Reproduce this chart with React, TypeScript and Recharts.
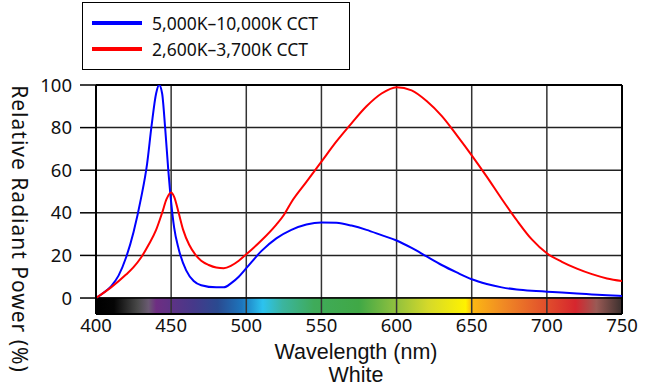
import {
  ComposedChart,
  Line,
  XAxis,
  YAxis,
  CartesianGrid,
  Legend,
  ReferenceArea,
  ReferenceLine,
  Label,
} from 'recharts';

// wavelength ticks (nm) and relative power ticks (%)
const wavelengthTicks = [400, 450, 500, 550, 600, 650, 700, 750];
const powerTicks = [0, 20, 40, 60, 80, 100];

// 5,000K–10,000K CCT (blue)
const coolWavelength = [
  400, 405, 410, 415, 420, 425, 430, 434, 437, 440, 442, 444, 446, 448, 450, 452, 455, 460, 465,
  470, 480, 485, 490, 495, 500, 510, 520, 530, 540, 550, 560, 570, 580, 590, 600, 610, 620, 630,
  640, 650, 660, 670, 680, 690, 700, 710, 720, 730, 740, 750,
];
const coolPower = [
  0, 2.5, 5.5, 10.5, 19, 31, 47, 63, 81, 96, 100, 96, 80, 61, 45, 33, 23, 13, 8,
  6, 5, 5, 7, 10, 14, 22, 28, 32, 34.5, 35.5, 35.3, 34, 32, 29.5, 27, 23.5, 19.5, 15.5,
  12, 8.8, 6.6, 5, 4, 3.4, 3, 2.6, 2.1, 1.7, 1.3, 1,
];

// 2,600K–3,700K CCT (red)
const warmWavelength = [
  400, 410, 420, 425, 430, 435, 440, 444, 447, 450, 452, 455, 458, 462, 466, 470, 475, 480, 485,
  490, 495, 500, 510, 520, 525, 530, 540, 550, 560, 570, 580, 590, 600, 610, 620, 630, 640, 650,
  660, 670, 680, 690, 700, 710, 720, 730, 740, 750,
];
const warmPower = [
  0, 5, 11, 14.5, 19, 25, 32, 40, 46.5, 49.5, 47.5, 40, 32, 25, 20.5, 17.5, 15.5, 14.3, 14,
  15.2, 17.5, 20.5, 27, 34.5, 39, 45, 54.5, 64, 73.5, 82, 90, 96, 99, 97.5, 92.5, 85.5, 76.5, 67,
  57, 46.5, 36.5, 27.5, 21, 17, 13.8, 11.2, 9.2, 8,
];

// visible spectrum strip under the plot
const spectrumNm = [400, 412, 428, 435, 440, 465, 481, 497, 511, 524, 545, 575, 598, 621, 646, 650, 671, 694, 719, 733, 750];
const spectrumColor = [
  '#000000', '#050505', '#4a4a4a', '#6a5a72', '#6e2e82', '#46398a', '#2a4a90', '#1d75bc', '#2cc3ef',
  '#3bb5a0', '#3fab5a', '#40a846', '#8cbf3f', '#d5d92a', '#fff200', '#fcb913', '#f08a24', '#e45a2b',
  '#d6262e', '#9a5a55', '#3a302e',
];

const coolData = coolWavelength.map((nm, i) => ({ nm, power: coolPower[i] }));
const warmData = warmWavelength.map((nm, i) => ({ nm, power: warmPower[i] }));

const FONT = '"Noto Sans", sans-serif';
const LABEL_FONT = '"Liberation Sans", Arial, sans-serif';
const SPECTRUM_BOTTOM = -7.5;

const legendItems = [
  { name: '5,000K–10,000K CCT', color: '#0000ff' },
  { name: '2,600K–3,700K CCT', color: '#ff0000' },
];

const LegendBox = () => (
  <div
    style={{
      border: '1.5px solid #000',
      background: '#fff',
      width: 268,
      height: 68,
      boxSizing: 'border-box',
      padding: '7px 0 0 9px',
      fontFamily: FONT,
      fontSize: 17.5,
      color: '#111',
    }}
  >
    {legendItems.map(item => (
      <div key={item.name} style={{ display: 'flex', alignItems: 'center', height: 26 }}>
        <span style={{ width: 50, height: 4, background: item.color, marginRight: 10 }} />
        <span>{item.name}</span>
      </div>
    ))}
  </div>
);

export default function App() {
  return (
    <div style={{ position: 'absolute', left: 0, top: 0, background: '#fff' }}>
      <ComposedChart
        width={651}
        height={389}
        margin={{ top: 85, right: 29, bottom: 45, left: 0 }}
        style={{ fontFamily: FONT }}
      >
        <defs>
          <linearGradient id="spectrum" x1="0" y1="0" x2="1" y2="0">
            {spectrumNm.map((nm, i) => (
              <stop key={nm} offset={(nm - 400) / 350} stopColor={spectrumColor[i]} />
            ))}
          </linearGradient>
        </defs>
        <CartesianGrid
          vertical={false}
          horizontalValues={powerTicks}
          stroke="#222"
          strokeWidth={1.5}
        />
        <XAxis
          type="number"
          dataKey="nm"
          domain={[400, 750]}
          ticks={wavelengthTicks}
          allowDataOverflow
          height={30}
          axisLine={{ stroke: '#000', strokeWidth: 2 }}
          tickLine={false}
          tickSize={0}
          tickMargin={5}
          tick={{ fill: '#111', fontSize: 18.5 }}
        >
          <Label
            content={() => (
              <g fontFamily={LABEL_FONT} fill="#111" textAnchor="middle" fontSize={21.5}>
                <text x={356} y={359}>Wavelength (nm)</text>
                <text x={356} y={382}>White</text>
              </g>
            )}
          />
        </XAxis>
        <YAxis
          type="number"
          width={96}
          domain={[SPECTRUM_BOTTOM, 100]}
          ticks={powerTicks}
          allowDataOverflow
          axisLine={{ stroke: '#000', strokeWidth: 2 }}
          tickLine={{ stroke: '#000', strokeWidth: 1.5 }}
          tickSize={16}
          tickMargin={8}
          tick={{ fill: '#111', fontSize: 18.5 }}
        >
          <Label
            content={() => (
              <text
                x={20}
                y={229}
                fontFamily={FONT}
                fontSize={21}
                letterSpacing={1}
                fill="#111"
                textAnchor="middle"
                dominantBaseline="central"
                transform="rotate(90, 20, 229)"
              >
                Relative Radiant Power (%)
              </text>
            )}
          />
        </YAxis>
        <ReferenceArea
          x1={400}
          x2={750}
          y1={SPECTRUM_BOTTOM}
          y2={0}
          fill="url(#spectrum)"
          fillOpacity={1}
          stroke="none"
        />
        {wavelengthTicks.map(t => (
          <ReferenceLine key={t} x={t} stroke="#333" strokeWidth={1.5} />
        ))}
        <ReferenceLine y={100} stroke="#000" strokeWidth={2} />
        <ReferenceLine x={750} stroke="#000" strokeWidth={2} />
        <ReferenceLine y={0} stroke="#000" strokeWidth={1.5} />
        <Legend
          layout="vertical"
          align="center"
          verticalAlign="middle"
          wrapperStyle={{ top: 2, left: 82, width: 268 }}
          content={() => <LegendBox />}
        />
        <Line
          data={coolData}
          dataKey="power"
          name="5,000K–10,000K CCT"
          type="monotone"
          stroke="#0000ff"
          strokeWidth={2}
          dot={false}
          isAnimationActive={false}
        />
        <Line
          data={warmData}
          dataKey="power"
          name="2,600K–3,700K CCT"
          type="monotone"
          stroke="#ff0000"
          strokeWidth={2}
          dot={false}
          isAnimationActive={false}
        />
      </ComposedChart>
    </div>
  );
}
